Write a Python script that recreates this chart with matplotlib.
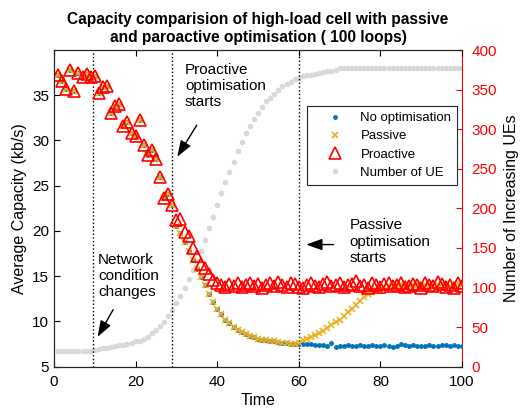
import matplotlib
matplotlib.use('Agg')
import matplotlib.pyplot as plt

plt.rcParams['font.family'] = ['Liberation Sans', 'DejaVu Sans']

# time steps (loops)
time = list(range(1, 101))

# capacity (kb/s) with proactive optimisation
proactive = [37.2, 36.6, 35.7, 37.8, 35.5, 37.5, 37.0, 37.3, 37.0, 37.1,
             35.3, 35.9, 36.0, 33.0, 33.8, 34.0, 31.6, 32.0, 30.8, 30.5,
             32.3, 29.5, 28.4, 29.0, 28.0, 26.0, 23.6, 24.1, 22.9, 21.2,
             21.3, 19.9, 19.4, 18.1, 17.2, 16.4, 15.9, 15.2, 14.6, 14.3,
             14.0, 13.8, 14.1, 13.9, 14.2, 13.8, 14.0, 14.3, 13.9, 14.1,
             13.7, 14.0, 14.2, 13.9, 14.4, 14.0, 13.8, 14.3, 14.1, 13.8,
             13.7, 14.0, 14.2, 13.9, 13.8, 14.1, 14.4, 13.9, 14.0, 14.2,
             13.8, 14.0, 14.1, 14.5, 13.9, 14.0, 13.7, 14.2, 14.0, 13.8,
             14.1, 14.3, 13.9, 14.0, 14.2, 13.8, 13.9, 14.1, 14.0, 13.7,
             14.3, 14.0, 13.9, 14.4, 14.1, 13.8, 14.0, 13.7, 14.2, 13.9]

# capacity with passive optimisation
passive = [37.2, 36.6, 35.7, 37.8, 35.5, 37.5, 37.0, 37.3, 37.0, 37.1,
           35.3, 35.9, 36.0, 33.0, 33.8, 34.0, 31.6, 32.0, 30.8, 30.5,
           32.3, 29.5, 28.4, 29.0, 28.0, 26.0, 23.6, 24.1, 22.9, 20.6,
           19.8, 18.8, 17.8, 16.8, 15.8, 14.9, 14.0, 13.0, 12.2, 11.4,
           10.8, 10.2, 9.8, 9.4, 9.1, 8.8, 8.6, 8.4, 8.3, 8.1,
           8.0, 7.9, 7.8, 7.8, 7.7, 7.6, 7.6, 7.5, 7.5, 7.6,
           7.9, 8.1, 8.3, 8.5, 8.7, 9.0, 9.3, 9.6, 9.9, 10.2,
           10.6, 11.0, 11.4, 11.8, 12.3, 12.7, 13.0, 13.3, 13.5, 13.6,
           13.8, 13.9, 13.9, 14.0, 14.1, 13.9, 14.0, 14.0, 14.1, 13.9,
           14.0, 14.1, 13.9, 14.0, 14.1, 14.0, 13.9, 14.0, 14.1, 14.0]

# capacity without optimisation
no_opt = [37.2, 36.6, 35.7, 37.8, 35.5, 37.5, 37.0, 37.3, 37.0, 37.1,
          35.3, 35.9, 36.0, 33.0, 33.8, 34.0, 31.6, 32.0, 30.8, 30.5,
          32.3, 29.5, 28.4, 29.0, 28.0, 26.0, 23.6, 24.1, 22.9, 20.6,
          19.8, 18.8, 17.8, 16.8, 15.8, 14.9, 14.0, 13.0, 12.2, 11.4,
          10.8, 10.2, 9.8, 9.4, 9.1, 8.8, 8.6, 8.4, 8.3, 8.1,
          8.0, 7.9, 7.8, 7.8, 7.7, 7.6, 7.6, 7.5, 7.5, 7.5,
          7.5, 7.5, 7.5, 7.4, 7.4, 7.4, 7.3, 7.6, 7.2, 7.3,
          7.3, 7.4, 7.3, 7.3, 7.4, 7.3, 7.3, 7.4, 7.3, 7.3,
          7.4, 7.3, 7.2, 7.3, 7.5, 7.4, 7.3, 7.4, 7.3, 7.3,
          7.3, 7.4, 7.3, 7.3, 7.4, 7.4, 7.3, 7.4, 7.3, 7.3]

# number of UEs (right axis)
n_ue = [20, 20, 20, 20, 20, 20, 20, 20, 20, 21,
        22, 23, 24, 25, 26, 27, 28, 29, 30, 32,
        33, 35, 37, 42, 46, 51, 57, 64, 72, 80,
        89, 99, 111, 122, 134, 146, 160, 175, 189, 204,
        219, 233, 246, 259, 272, 284, 295, 304, 313, 321,
        328, 335, 340, 345, 350, 354, 357, 360, 363, 365,
        367, 368, 369, 370, 371, 372, 373, 374, 375, 377,
        377, 377, 377, 377, 377, 377, 377, 377, 377, 377,
        377, 377, 377, 377, 377, 377, 377, 377, 377, 377,
        377, 377, 377, 377, 377, 377, 377, 377, 377, 377]

events = [9.5, 29, 60]

fig = plt.figure(figsize=(5.22, 4.11), dpi=100)
ax = fig.add_axes([0.1034, 0.1078, 0.7817, 0.7705])
ax2 = ax.twinx()

# UE curve behind the capacity curves
ue_line, = ax2.plot(time, n_ue, '.', color='#d9d9d9', ms=6, label='Number of UE')
ax2.set_ylim(0, 400)
ax2.set_yticks(range(0, 401, 50))
ax2.tick_params(axis='y', colors='red', direction='in', labelsize=11, length=4, pad=7)
ax2.spines['right'].set_color('red')
ax2.set_ylabel('Number of Increasing UEs', fontsize=11.5, labelpad=5)

ax.set_zorder(ax2.get_zorder() + 1)
ax.patch.set_visible(False)

for e in events:
    ax.axvline(e, color='black', ls=':', lw=1)

l1, = ax.plot(time, no_opt, '.', color='#0072BD', ms=5, label='No optimisation')
l2, = ax.plot(time, passive, 'x', color='#EDB120', ms=5, mew=1.2, label='Passive')
l3, = ax.plot(time, proactive, '^', color='red', mfc='none', ms=8, mew=1.2, label='Proactive')

ax.set_xlim(0, 100)
ax.set_ylim(5, 40)
ax.set_yticks(range(5, 40, 5))
ax.set_xticks(range(0, 101, 20))
ax.tick_params(direction='in', labelsize=11, length=4, top=True)
ax.tick_params(axis='x', pad=6)
ax.set_xlabel('Time', fontsize=11.5, labelpad=3)
ax.set_ylabel('Average Capacity (kb/s)', fontsize=11.5)
for s in ['top', 'left', 'bottom']:
    ax.spines[s].set_color('#262626')
ax.spines['right'].set_visible(False)

ax.set_title('Capacity comparision of high-load cell with passive\n'
             'and paroactive optimisation ( 100 loops)',
             fontsize=11.2, fontweight='bold', pad=6)

# annotation texts
ax.text(32.1, 38.6, 'Proactive\noptimisation\nstarts', fontsize=11, ha='left', va='top')
ax.text(10.8, 17.6, 'Network\ncondition\nchanges', fontsize=11, ha='left', va='top')
ax.text(72.5, 21.4, 'Passive\noptimisation\nstarts', fontsize=11, ha='left', va='top')

# arrows
arrow = dict(arrowstyle='-|>,head_length=0.7,head_width=0.25', color='black', lw=1,
             mutation_scale=14, shrinkA=0, shrinkB=0)
ax.annotate('', xy=(30.2, 28.2), xytext=(35.0, 31.7), arrowprops=arrow)
ax.annotate('', xy=(10.7, 8.3), xytext=(14.5, 11.3), arrowprops=arrow)
ax.annotate('', xy=(61.8, 18.5), xytext=(68.5, 18.5), arrowprops=arrow)

leg = ax.legend([l1, l2, l3, ue_line], ['No optimisation', 'Passive', 'Proactive', 'Number of UE'],
                loc='upper right', bbox_to_anchor=(0.9885, 0.823), fontsize=9.5,
                fancybox=False, edgecolor='#262626', framealpha=1, borderpad=0.45,
                handlelength=3.3, handletextpad=0.3, labelspacing=0.45, borderaxespad=0)
leg.get_frame().set_linewidth(0.8)

fig.savefig('out.png', dpi=100)
